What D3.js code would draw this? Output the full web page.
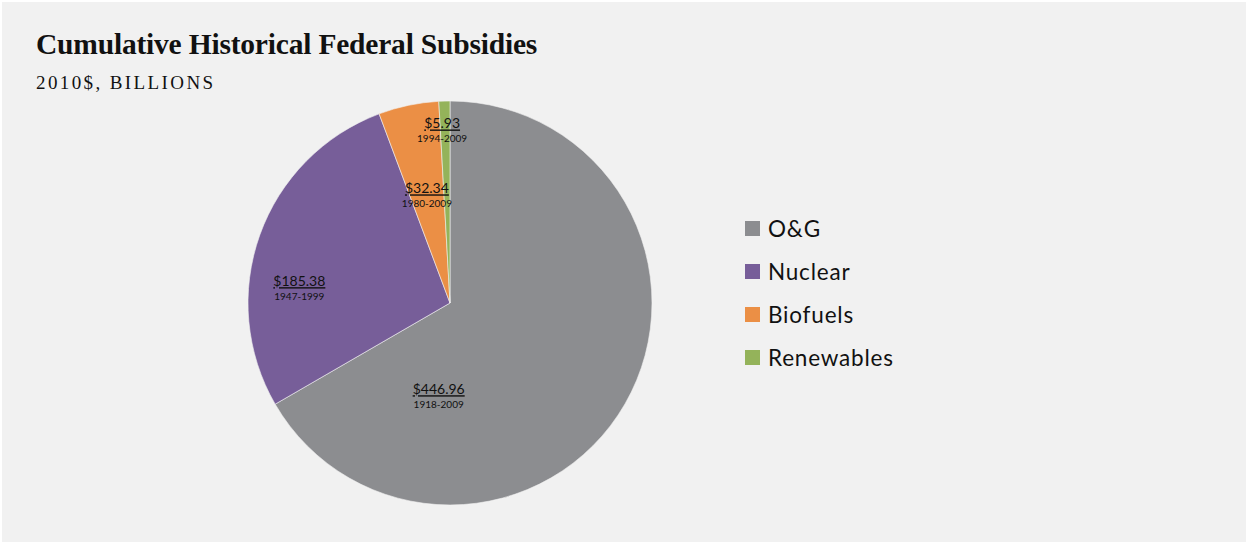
<!DOCTYPE html>
<html>
<head>
<meta charset="utf-8">
<script src="https://cdn.jsdelivr.net/npm/d3@7"></script>
<style>
  body { margin: 0; background: #fff; }
</style>
</head>
<body>
<div id="chart"></div>
<script>
// Chart data
const categories = ["O&G", "Nuclear", "Biofuels", "Renewables"];
const values = [446.96, 185.38, 32.34, 5.93];
const periods = ["1918-2009", "1947-1999", "1980-2009", "1994-2009"];
const colors = ["#8c8d90", "#775e99", "#eb8f45", "#94b35a"];

// label placement (angle in degrees clockwise from top, radius as fraction of pie radius)
const labelPlacement = [[187, 0.46], [276, 0.75], [348, 0.55], [357.4, 0.86]];

const width = 1248;
const height = 544;
const cx = 450, cy = 303, radius = 202;

const svg = d3.select("#chart").append("svg")
    .attr("width", width)
    .attr("height", height);

// panel background
svg.append("rect")
    .attr("x", 2).attr("y", 2)
    .attr("width", width - 4).attr("height", height - 4)
    .attr("fill", "#f1f1f1");

// Title
svg.append("text")
    .attr("x", 36).attr("y", 54)
    .style("font-family", "'Liberation Serif', serif")
    .style("font-weight", "bold")
    .style("font-size", "29.5px")
    .style("letter-spacing", "-0.2px")
    .attr("fill", "#111")
    .text("Cumulative Historical Federal Subsidies");

svg.append("text")
    .attr("x", 36).attr("y", 89)
    .style("font-family", "'Liberation Serif', serif")
    .style("font-size", "19px")
    .style("letter-spacing", "2.4px")
    .attr("fill", "#111")
    .text("2010$, BILLIONS");

// Pie
const pie = d3.pie().sort(null).value(d => d);
const arcs = pie(values);
const arc = d3.arc().innerRadius(0).outerRadius(radius);

const g = svg.append("g").attr("transform", `translate(${cx},${cy})`);

g.selectAll("path")
    .data(arcs)
    .enter()
    .append("path")
    .attr("d", arc)
    .attr("fill", (d, i) => colors[i])
    .attr("stroke", "#f1f1f1")
    .attr("stroke-width", 0.6);

// Data labels
const labelFont = "Lato, 'Open Sans', sans-serif";
const labels = g.selectAll("g.label")
    .data(arcs)
    .enter()
    .append("g")
    .attr("class", "label")
    .attr("transform", (d, i) => {
        const a = labelPlacement[i][0] * Math.PI / 180;
        const r = labelPlacement[i][1] * radius;
        return `translate(${r * Math.sin(a)},${-r * Math.cos(a)})`;
    });

labels.append("text")
    .attr("text-anchor", "middle")
    .attr("y", -1)
    .style("font-family", labelFont)
    .style("font-size", "14px")
    .style("text-decoration", "underline")
    .attr("fill", "#111")
    .text(d => "$" + d.value.toFixed(2));

labels.append("text")
    .attr("text-anchor", "middle")
    .attr("y", 13)
    .style("font-family", labelFont)
    .style("font-size", "10px")
    .attr("fill", "#111")
    .text((d, i) => periods[i]);

// Legend
const legend = svg.append("g")
    .attr("transform", "translate(745,221)");

const items = legend.selectAll("g")
    .data(categories)
    .enter()
    .append("g")
    .attr("transform", (d, i) => `translate(0,${i * 43})`);

items.append("rect")
    .attr("width", 15)
    .attr("height", 15)
    .attr("fill", (d, i) => colors[i]);

items.append("text")
    .attr("x", 23)
    .attr("y", 16)
    .style("font-family", labelFont)
    .style("font-size", "22.5px")
    .style("letter-spacing", "0.8px")
    .attr("fill", "#111")
    .text(d => d);
</script>
</body>
</html>
